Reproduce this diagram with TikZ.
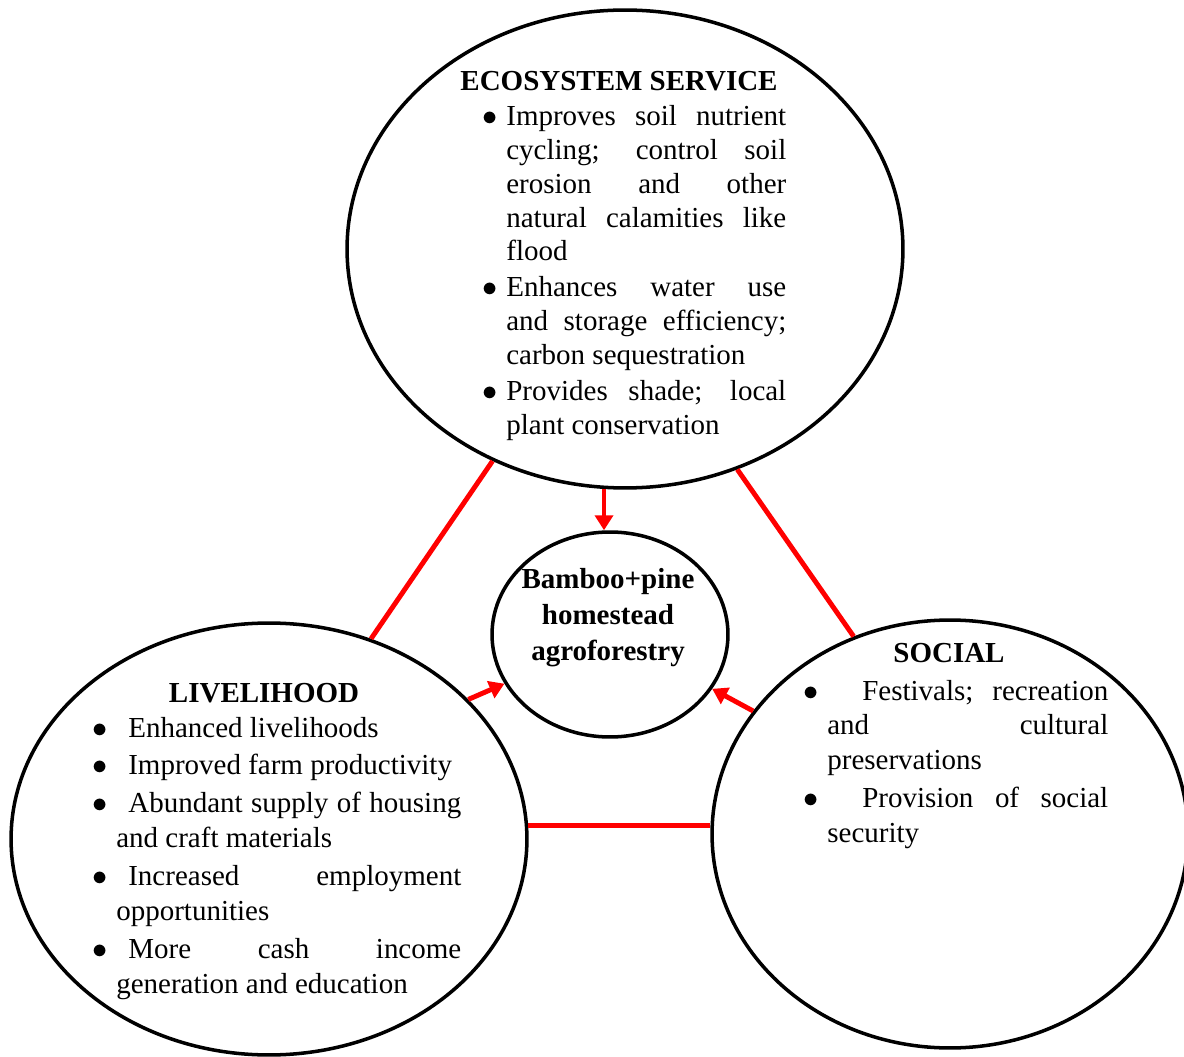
\documentclass[tikz,border=0pt]{standalone}
\usepackage{fontspec}
\setmainfont{Liberation Serif}
\usepackage{tikz}
\usepackage{xcolor}
\definecolor{linkred}{RGB}{255,0,0}
\usetikzlibrary{shapes.geometric,arrows.meta,positioning}

\newcommand{\bulletat}[2]{\noindent\hspace*{-#1}\makebox[#2][l]{$\bullet$}}

\begin{document}
\begin{tikzpicture}[x=0.02cm,y=-0.02cm,
	oval/.style={ellipse,draw,line width=2pt,inner sep=0pt},
	link/.style={linkred,line width=2.8pt},
	flow/.style={link,-{Triangle[length=0.3cm,width=0.36cm]}},
	head/.style={font=\bfseries\fontsize{16.5}{19}\selectfont,inner sep=0pt,anchor=base},
	list/.style={inner sep=0pt,anchor=base west,align=justify}]
	\useasboundingbox (0,0) rectangle (1184,1057);
	
	\node[oval,minimum width=11.12cm,minimum height=9.56cm] (eco) at (625,249) {};
	\node[oval,minimum width=4.72cm,minimum height=4.1cm] (core) at (610,634.5) {};
	\node[oval,minimum width=10.32cm,minimum height=8.64cm] (live) at (269,839) {};
	\node[oval,minimum width=9.52cm,minimum height=8.56cm] (soc) at (950,834) {};
	
	\draw[link] (eco.238) -- (live.63);
	\draw[link] (eco.297) -- (soc.116);
	\draw[link] (live.3) -- (live.3 -| soc.west);
	
	\draw[flow] (eco.265) -- (eco.265 |- core.north);
	\draw[flow] (live.35) -- (core.205);
	\draw[flow] (soc.148) -- (core.332);
	
	\node[align=center,inner sep=0pt,font=\bfseries\fontsize{16.5}{20.5}\selectfont] (coretxt) at (608,618) {Bamboo+pine\\homestead\\agroforestry};
	
	\node[head] (ecohead) at (619,91) {ECOSYSTEM SERVICE};
	\node[list,text width=6.08cm,font=\fontsize{16.5}{19.2}\selectfont] (ecotxt) at (482,126) {\setlength{\parskip}{1.3pt}\leftskip=0.48cm%
		\bulletat{0.48cm}{0.48cm}Improves soil nutrient\linebreak cycling; control soil\linebreak erosion and other\linebreak natural calamities like\linebreak flood\par
		\bulletat{0.48cm}{0.48cm}Enhances water use\linebreak and storage efficiency;\linebreak carbon sequestration\par
		\bulletat{0.48cm}{0.48cm}Provides shade; local\linebreak plant conservation\par};
	
	\node[head] (livehead) at (264,702) {LIVELIHOOD};
	\node[list,text width=7.38cm,font=\fontsize{16.5}{19.9}\selectfont] (livetxt) at (92,737) {\setlength{\parskip}{1.7pt}\leftskip=0.48cm%
		\bulletat{0.48cm}{0.72cm}Enhanced livelihoods\par
		\bulletat{0.48cm}{0.72cm}Improved farm productivity\par
		\bulletat{0.48cm}{0.72cm}Abundant supply of housing\linebreak and craft materials\par
		\bulletat{0.48cm}{0.72cm}Increased employment\linebreak opportunities\par
		\bulletat{0.48cm}{0.72cm}More cash income\linebreak generation and education\par};
	
	\node[head] (sochead) at (949,663) {SOCIAL};
	\node[list,text width=6.1cm,font=\fontsize{16.5}{19.9}\selectfont] (soctxt) at (803,700) {\setlength{\parskip}{1.7pt}\leftskip=0.48cm%
		\bulletat{0.48cm}{1.18cm}Festivals; recreation\linebreak and cultural\linebreak preservations\par
		\bulletat{0.48cm}{1.18cm}Provision of social\linebreak security\par};
\end{tikzpicture}
\end{document}
